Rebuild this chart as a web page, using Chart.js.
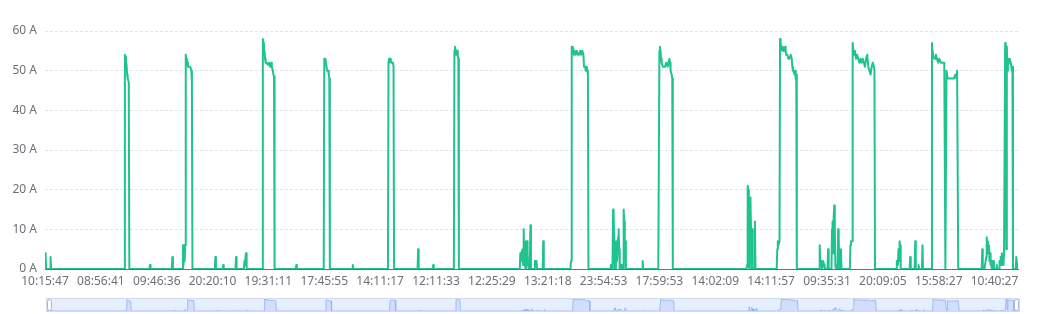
<!DOCTYPE html>
<html>
<head>
<meta charset="utf-8">
<script src="https://cdn.jsdelivr.net/npm/chart.js@4.4.1/dist/chart.umd.min.js"></script>
<style>
  html, body { margin: 0; padding: 0; background: #fff; }
  #wrap { position: relative; width: 1050px; height: 314px; }
  #mainChart { position: absolute; left: 0; top: 0; }
  #zoomChart { position: absolute; left: 46px; top: 298px; }
</style>
</head>
<body>
<div id="wrap">
  <canvas id="mainChart" width="1050" height="314"></canvas>
  <canvas id="zoomChart" width="974" height="14"></canvas>
</div>
<script>
// x tick labels, one every 100 samples
const timeLabels = ['10:15:47', '08:56:41', '09:46:36', '20:20:10', '19:31:11', '17:45:55',
    '14:11:17', '12:11:33', '12:25:29', '13:21:18', '23:54:53', '17:59:53',
    '14:02:09', '14:11:57', '09:35:31', '20:09:05', '15:58:27', '10:40:27'];
const sampleCount = 1742;
const yTicks = [0, 10, 20, 30, 40, 50, 60];

// [sample index, current in A]
const currentReadings = [
    [0,1],[1,4],[2,0],[9,0],[10,3],[11,0],
    [142,0],[143,54],[144,53.5],[145,52],[146,51.5],[147,49],[148,48],[150,47],[151,0],
    [187,0],[188,1],[189,0],[227,0],[228,3],[229,0],
    [246,0],[247,6],[248,1],[249,6],[250,2],[251,6],[252,54],[253,52],[254,53],[255,52],[256,51],[258,51],[260,51],[262,50],[263,47],[264,0],
    [304,0],[305,3],[306,0],[318,0],[319,1],[320,0],[341,0],[342,3],[343,0],[356,0],[357,2],[358,1],[359,3],[360,4],[361,0],
    [389,0],[390,58],[391,57],[392,55],[393,55],[394,53],[395,52],[397,52],[399,51.5],[401,52],[403,51],[405,52],[406,51],[408,50],[409,49],[410,48.5],[411,0],
    [449,0],[450,1],[451,0],
    [499,0],[500,53],[501,53],[502,53],[504,51],[505,50],[507,50],[508,49],[509,48],[510,0],
    [550,0],[551,1],[552,0],
    [614,0],[615,52],[616,53],[617,52],[618,53],[619,52.5],[621,52],[623,52],[624,51],[625,0],
    [667,0],[668,5],[669,0],[694,0],[695,1],[696,0],
    [732,0],[733,55],[734,56],[735,55],[736,54],[737,55],[738,55],[739,54],[740,53],[741,0],
    [850,0],[851,4],[852,2],[853,4],[855,5],[856,1],[857,10],[858,3],[859,6],[860,0],[861,7],[862,1],[863,7],[864,4],[865,1],[866,0],
    [868,0],[869,11],[870,0],[876,0],[877,2],[879,2],[880,2],[881,0],[891,0],[892,7],[893,0],
    [940,0],[941,1],[942,2],[943,56],[944,55],[945,56],[946,55],[947,54],[948,55],[950,54],[952,55],[954,54],[956,54],[958,55],
    [960,54],[962,55],[964,54],[965,51],[967,51],[968,50],[970,51],[971,50],[972,49],[973,0],
    [1012,0],[1013,1],[1014,1],[1016,0],[1017,15],[1018,14],[1019,7],[1020,0],[1022,0],[1023,7],[1024,2],[1026,8],[1027,10],[1028,5],[1029,0],
    [1032,1],[1033,0],[1035,0],[1036,15],[1037,12],[1038,7],[1039,7],[1040,0],
    [1069,0],[1070,2],[1071,0],
    [1098,0],[1100,55],[1101,56],[1102,55],[1103,53],[1104,52],[1106,51],[1108,51],[1110,51],[1112,52],[1113,52],[1115,51],[1116,52],
    [1118,53],[1119,52],[1120,50],[1122,49],[1123,48],[1124,0],
    [1256,0],[1257,1],[1258,21],[1259,20],[1260,1],[1261,0],[1262,0],[1263,18],[1264,10],[1265,0],[1266,10],[1267,0],[1270,0],[1271,12],[1272,0],
    [1310,0],[1311,5],[1312,7],[1313,6],[1315,7],[1316,58],[1317,57],[1318,56],[1319,56],[1320,55],[1321,56],[1322,55],[1324,55],[1325,56],
    [1326,55],[1327,54],[1329,54],[1331,53],[1333,53],[1335,54],[1337,53],[1338,51],[1339,50],[1340,50],[1342,49],[1343,50],[1344,48],[1345,49],[1346,0],
    [1386,0],[1387,6],[1388,1],[1390,2],[1391,0],[1393,2],[1395,1],[1396,0],[1401,0],[1402,5],[1403,0],[1408,0],[1409,10],[1410,12],[1411,4],
    [1412,13],[1413,16],[1414,10],[1415,1],[1416,0],[1419,0],[1420,10],[1421,8],[1422,0],[1424,0],[1425,5],[1426,0],
    [1441,0],[1442,6],[1443,7],[1445,7],[1446,57],[1447,55],[1448,54],[1450,55],[1452,53],[1454,54],[1456,53],[1458,52],[1460,53],[1462,52],
    [1464,53],[1466,52],[1468,51],[1470,53],[1472,54],[1474,51],[1476,50],[1478,49],[1480,51],[1482,52],[1484,51],[1485,50],[1486,0],
    [1524,0],[1525,2],[1527,1],[1528,5],[1529,2],[1530,7],[1531,6],[1532,0],[1548,0],[1549,3],[1550,0],[1557,0],[1558,7],[1559,0],
    [1563,0],[1564,1],[1565,0],[1570,0],[1571,6],[1572,0],
    [1587,0],[1588,57],[1589,55],[1590,54],[1592,53],[1594,53],[1595,54],[1597,53],[1599,52],[1601,53],[1602,53],[1604,52],[1606,52],
    [1608,52],[1610,52],[1611,52],[1612,0],[1613,0],[1614,50],[1616,48],[1618,48],[1621,48],[1624,48],[1627,48],[1630,49],[1632,48],
    [1633,50],[1634,50],[1635,0],
    [1677,0],[1678,5],[1679,0],[1682,0],[1683,1],[1685,3],[1686,8],[1687,6],[1688,7],[1689,4],[1690,6],[1691,2],[1692,4],[1693,1],[1694,2],
    [1695,0],[1697,0],[1698,2],[1699,0],[1703,0],[1704,1],[1705,0],[1708,0],[1709,2],[1710,1],[1711,3],[1712,1],[1713,4],[1714,2],
    [1715,3],[1716,1],[1717,4],[1718,4],
    [1719,57],[1720,52],[1721,5],[1722,56],[1723,50],[1724,53],[1726,52],[1727,53],[1729,52],[1730,51],[1731,50],[1732,51],[1733,0],
    [1738,0],[1739,3],[1740,3],[1741,0],[1742,0]
];

const points = currentReadings.map(([x, y]) => ({ x, y }));
const lineColor = '#1fc38f';
const tickFont = { family: 'Microsoft YaHei, Noto Sans, sans-serif', size: 12 };

new Chart(document.getElementById('mainChart').getContext('2d'), {
    type: 'line',
    data: {
        datasets: [{
            data: points,
            borderColor: lineColor,
            borderWidth: 2,
            borderJoinStyle: 'round',
            pointRadius: 0,
            tension: 0,
            fill: false
        }]
    },
    options: {
        responsive: false,
        animation: false,
        devicePixelRatio: 1,
        layout: { padding: { left: 0, right: 32, top: 31, bottom: 0 } },
        plugins: { legend: { display: false }, tooltip: { enabled: false } },
        scales: {
            x: {
                type: 'linear',
                min: 0,
                max: sampleCount,
                afterFit: (s) => { s.height = 45; },
                grid: { display: false, drawTicks: false },
                border: { display: true, color: '#6e7079' },
                ticks: {
                    stepSize: 100,
                    includeBounds: false,
                    autoSkip: false,
                    maxRotation: 0,
                    padding: 5,
                    color: '#6e7079',
                    font: tickFont,
                    callback: (v) => timeLabels[v / 100] || ''
                }
            },
            y: {
                min: yTicks[0],
                max: yTicks[yTicks.length - 1],
                afterFit: (s) => { s.width = 45; },
                border: { display: false, dash: [3, 2] },
                grid: { color: '#dfe4ee', drawTicks: false },
                ticks: {
                    stepSize: 10,
                    padding: 8,
                    color: '#6e7079',
                    font: tickFont,
                    callback: (v) => v + ' A'
                }
            }
        }
    }
});

// the zoom slider under the chart
const sliderBox = {
    id: 'sliderBox',
    beforeDatasetsDraw: (chart) => {
        const { ctx, width, height } = chart;
        ctx.save();
        ctx.fillStyle = 'rgba(135,175,255,0.2)';
        ctx.fillRect(0.5, 0.5, width - 1, height - 1);
        ctx.strokeStyle = '#d2dbee';
        ctx.lineWidth = 1;
        ctx.strokeRect(0.5, 0.5, width - 1, height - 1);
        ctx.restore();
    },
    afterDraw: (chart) => {
        const { ctx, width, height } = chart;
        ctx.save();
        ctx.fillStyle = '#fff';
        ctx.strokeStyle = '#acb8d1';
        ctx.lineWidth = 1;
        [1.5, width - 5.5].forEach((x) => {
            ctx.beginPath();
            ctx.roundRect(x, 1.5, 4, height - 3, 2);
            ctx.fill();
            ctx.stroke();
        });
        ctx.restore();
    }
};

new Chart(document.getElementById('zoomChart').getContext('2d'), {
    type: 'line',
    data: {
        datasets: [{
            data: points,
            borderColor: '#8fb0f7',
            borderWidth: 0.8,
            backgroundColor: 'rgba(143,176,247,0.25)',
            pointRadius: 0,
            tension: 0,
            fill: 'origin'
        }]
    },
    options: {
        responsive: false,
        animation: false,
        devicePixelRatio: 1,
        layout: { padding: { left: 1, right: 1, top: 1, bottom: 1 } },
        plugins: { legend: { display: false }, tooltip: { enabled: false } },
        scales: {
            x: { type: 'linear', display: false, min: 0, max: sampleCount },
            y: { display: false, min: 0, max: 58 }
        }
    },
    plugins: [sliderBox]
});
</script>
</body>
</html>
